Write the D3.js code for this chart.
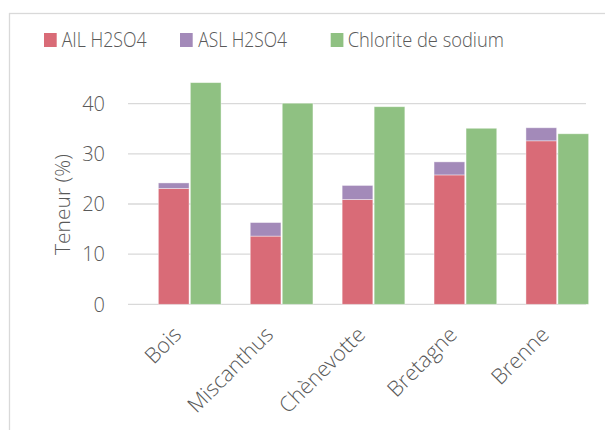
<!DOCTYPE html>
<html><head><meta charset="utf-8">
<script src="https://cdn.jsdelivr.net/npm/d3@7"></script>
<style>body{margin:0;background:#fff}svg{display:block}text{font-family:"Open Sans",sans-serif;font-weight:300;fill:#595959}</style>
</head><body><svg id="c" width="605" height="430"></svg>
<script>
const categories = ["Bois","Miscanthus","Chènevotte","Bretagne","Brenne"];
const ailH2SO4 = [23.1, 13.6, 20.9, 25.8, 32.6];
const aslH2SO4 = [1.1, 2.7, 2.8, 2.6, 2.6];
const chloriteSodium = [44.2, 40.1, 39.4, 35.1, 34.0];
const yTicks = [0, 10, 20, 30, 40];
const seriesNames = ["AIL H2SO4", "ASL H2SO4", "Chlorite de sodium"];
const colors = ["#d96b77", "#a38ab9", "#8fc182"];

const svg = d3.select("#c");
svg.append("rect").attr("x",9.5).attr("y",13.5).attr("width",700).attr("height",500)
  .attr("fill","none").attr("stroke","#d9d9d9").attr("stroke-width",1.3);

const x = d3.scaleBand().domain(categories).range([143.75, 603.25]);
const y = d3.scaleLinear().domain([0,45]).range([304.3, 304.3 - 45*5.015]);
const gridX0 = 128, gridX1 = 586;

svg.append("g").selectAll("line").data(yTicks).join("line")
  .attr("x1",gridX0).attr("x2",gridX1).attr("y1",d=>y(d)).attr("y2",d=>y(d))
  .attr("stroke","#d9d9d9").attr("stroke-width",1.3);

svg.append("g").selectAll("text").data(yTicks).join("text")
  .attr("x",105).attr("y",d=>y(d)).attr("dy","0.36em").attr("text-anchor","end")
  .attr("font-size",20).text(d=>d);

svg.append("text").attr("transform","translate(70,204.5) rotate(-90)")
  .attr("text-anchor","middle").attr("font-size",21).text("Teneur (%)");

const barW = 30.7;
const g = svg.append("g");
categories.forEach((c,i)=>{
  const cx = x(c) + x.bandwidth()/2;
  const rx = cx - 31.35, gx = cx + 0.65;
  g.append("rect").attr("x",rx).attr("width",barW)
    .attr("y",y(ailH2SO4[i])).attr("height",y(0)-y(ailH2SO4[i]))
    .attr("fill",colors[0]).attr("stroke","#fff").attr("stroke-opacity",0.5).attr("stroke-width",0.8);
  const top = ailH2SO4[i]+aslH2SO4[i];
  g.append("rect").attr("x",rx).attr("width",barW)
    .attr("y",y(top)).attr("height",y(ailH2SO4[i])-y(top))
    .attr("fill",colors[1]).attr("stroke","#fff").attr("stroke-opacity",0.5).attr("stroke-width",0.8);
  g.append("rect").attr("x",gx).attr("width",barW)
    .attr("y",y(chloriteSodium[i])).attr("height",y(0)-y(chloriteSodium[i]))
    .attr("fill",colors[2]).attr("stroke","#fff").attr("stroke-opacity",0.5).attr("stroke-width",0.8);
  svg.append("text").attr("transform",`translate(${cx-7},336) rotate(-45)`)
    .attr("text-anchor","end").attr("font-size",21.5).text(c);
});

const legX = [44, 180, 330.7];
const legTX = [61.7, 198.3, 347.7];
const legW = [85, 88.7, 156.3];
seriesNames.forEach((s,i)=>{
  svg.append("rect").attr("x",legX[i]).attr("y",33).attr("width",12.7).attr("height",14).attr("fill",colors[i]);
  svg.append("text").attr("x",legTX[i]).attr("y",47.3).attr("font-size",19.6)
    .attr("textLength",legW[i]).attr("lengthAdjust","spacingAndGlyphs").text(s);
});
</script></body></html>
